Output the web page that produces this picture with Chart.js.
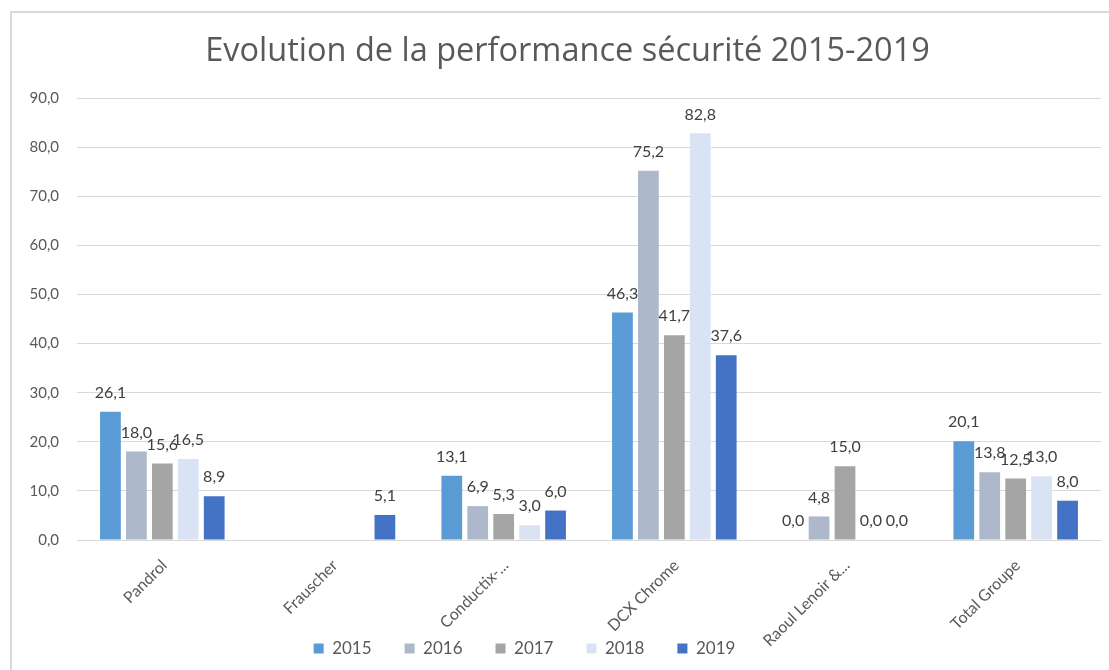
<!DOCTYPE html>
<html>
<head>
<meta charset="utf-8">
<script src="https://cdn.jsdelivr.net/npm/chart.js@4.4.1/dist/chart.umd.min.js"></script>
<style>
  html, body { margin: 0; padding: 0; background: #ffffff; }
  #frame { position: absolute; left: 10px; top: 11px; width: 1099px; height: 659px;
           border-left: 2px solid #d9d9d9; border-top: 2px solid #d9d9d9; box-sizing: border-box; }
  #c { display: block; }
</style>
</head>
<body>
<div id="frame"><canvas id="c" width="1097" height="657"></canvas></div>
<script>
const categories = ["Pandrol", "Frauscher", "Conductix-...", "DCX Chrome", "Raoul Lenoir &...", "Total Groupe"];
const years = ["2015", "2016", "2017", "2018", "2019"];
const v2015 = [26.1, null, 13.1, 46.3, 0.0, 20.1];
const v2016 = [18.0, null, 6.9, 75.2, 4.8, 13.8];
const v2017 = [15.6, null, 5.3, 41.7, 15.0, 12.5];
const v2018 = [16.5, null, 3.0, 82.8, 0.0, 13.0];
const v2019 = [8.9, 5.1, 6.0, 37.6, 0.0, 8.0];
const yTicks = [0, 10, 20, 30, 40, 50, 60, 70, 80, 90];
const colors = ["#5B9BD5", "#ADB9CA", "#A5A5A5", "#DAE3F3", "#4472C4"];
const series = [v2015, v2016, v2017, v2018, v2019];

const FONT = "Lato, 'Open Sans', sans-serif";
const TFONT = "'Open Sans', Lato, sans-serif";
const fmt = v => v.toFixed(1).replace('.', ',');

const labelPlugin = {
  id: 'barLabels',
  afterDatasetsDraw(chart) {
    const ctx = chart.ctx;
    ctx.save();
    ctx.font = "16px " + FONT;
    ctx.fillStyle = "#404040";
    ctx.textAlign = "center";
    ctx.textBaseline = "middle";
    chart.data.datasets.forEach((ds, di) => {
      const meta = chart.getDatasetMeta(di);
      meta.data.forEach((el, i) => {
        const v = ds.data[i];
        if (v === null || v === undefined) return;
        ctx.fillText(fmt(v), el.x, el.y - 19);
      });
    });
    ctx.restore();
  }
};

const layoutShift = {
  id: 'layoutShift',
  afterLayout(chart) {
    if (chart.legend) { chart.legend.left -= 64; }
    if (chart.titleBlock) { chart.titleBlock.left += 11; chart.titleBlock.right += 11; }
  }
};

new Chart(document.getElementById('c'), {
  type: 'bar',
  data: {
    labels: categories,
    datasets: series.map((d, i) => ({
      label: years[i],
      data: d,
      backgroundColor: colors[i],
      borderWidth: 0,
      categoryPercentage: 0.76,
      barPercentage: 0.8
    }))
  },
  options: {
    responsive: false,
    animation: false,
    devicePixelRatio: 1,
    layout: { padding: { left: 0, right: 8, top: 0, bottom: 3 } },
    plugins: {
      title: {
        display: true,
        text: "Evolution de la performance sécurité 2015-2019",
        color: "#595959",
        font: { family: TFONT, size: 32.5, weight: 'normal', lineHeight: 1.2 },
        padding: { top: 19, bottom: 27 }
      },
      legend: {
        position: 'bottom',
        labels: {
          color: "#595959",
          font: { family: FONT, size: 17 },
          boxWidth: 10,
          boxHeight: 10,
          padding: 33
        }
      },
      tooltip: { enabled: false }
    },
    scales: {
      y: {
        min: 0, max: 90,
        afterFit(s) { s.width = 65; },
        afterBuildTicks(s) { s.ticks = yTicks.map(v => ({ value: v })); },
        ticks: {
          padding: 18,
          color: "#595959",
          font: { family: FONT, size: 15 },
          callback: v => fmt(v)
        },
        grid: { color: "#d9d9d9", drawTicks: false, lineWidth: 1 },
        border: { display: false }
      },
      x: {
        afterFit(s) { s.height = 67; s._computeLabelArea = () => undefined; },
        ticks: {
          color: "#595959",
          font: { family: FONT, size: 16 },
          maxRotation: 45,
          minRotation: 45,
          labelOffset: 2,
          padding: 8,
          autoSkip: false
        },
        grid: { display: false },
        border: { display: true, color: "#d9d9d9" }
      }
    }
  },
  plugins: [labelPlugin, layoutShift]
});
</script>
</body>
</html>
